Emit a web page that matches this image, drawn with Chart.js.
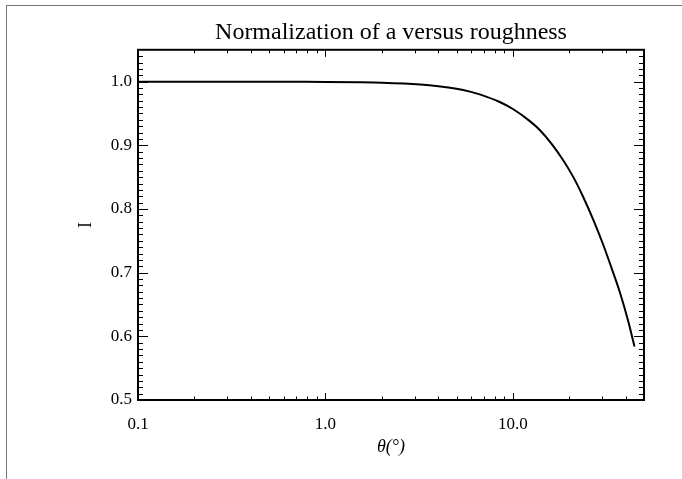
<!DOCTYPE html>
<html>
<head>
<meta charset="utf-8">
<script src="https://cdn.jsdelivr.net/npm/chart.js@4/dist/chart.umd.min.js"></script>
<style>
  body { margin: 0; background: #fff; }
  #wrap { position: relative; width: 682px; height: 479px; overflow: hidden; }
  #frame { position: absolute; left: 6px; top: 5px; width: 700px; height: 500px; border-left: 1px solid #777; border-top: 1px solid #777; }
  canvas { position: absolute; left: 0; top: 0; }
</style>
</head>
<body>
<div id="wrap">
  <div id="frame"></div>
  <canvas id="normChart" width="682" height="479"></canvas>
</div>
<script>
// 曲线数据：θ(度) 与 归一化值 I
const thetaDeg = [0.1, 0.2, 0.3, 0.5, 0.7, 1, 1.5, 2, 3.2, 4, 5, 5.9, 6.65, 8.5, 10, 12.3, 13.9, 16, 18.5, 21, 23.6, 27, 30.2, 33.5, 37.1, 41, 44.5]
const normI = [1.0, 1.0, 1.0, 1.0, 0.9998, 0.9996, 0.999, 0.9982, 0.9954, 0.9928, 0.9888, 0.9843, 0.980, 0.968, 0.957, 0.938, 0.924, 0.903, 0.877, 0.850, 0.820, 0.781, 0.745, 0.708, 0.670, 0.626, 0.584]

// 刻度
const xTickValues = [0.1, 1, 10]
const xTickLabels = ['0.1', '1.0', '10.0']
const yTickValues = [0.5, 0.6, 0.7, 0.8, 0.9, 1.0]
const yTickLabels = ['0.5', '0.6', '0.7', '0.8', '0.9', '1.0']

// 次刻度位置
const xMinorTicks = []
;[0.1, 1, 10].forEach(d => {
  for (let k = 2; k <= 9; k++) if (d * k < 50) xMinorTicks.push(d * k)
})
const yMinorTicks = []
for (let i = 51; i < 105; i++) if (i % 10 !== 0) yMinorTicks.push(i / 100)

const serif = 'Liberation Serif'
Chart.defaults.color = '#000'

// IDL 风格：四边框 + 向内的主/次刻度
const idlAxes = {
  id: 'idlAxes',
  afterDraw(chart) {
    const { ctx, chartArea: a, scales: { x, y } } = chart
    ctx.save()
    ctx.strokeStyle = '#000'
    ctx.lineWidth = 1
    ctx.beginPath()
    const xt = (v, len) => {
      const px = Math.round(x.getPixelForValue(v)) + 0.5
      ctx.moveTo(px, a.bottom); ctx.lineTo(px, a.bottom - len)
      ctx.moveTo(px, a.top); ctx.lineTo(px, a.top + len)
    }
    const yt = (v, len) => {
      const py = Math.round(y.getPixelForValue(v)) + 0.5
      ctx.moveTo(a.left, py); ctx.lineTo(a.left + len, py)
      ctx.moveTo(a.right, py); ctx.lineTo(a.right - len, py)
    }
    xTickValues.forEach(v => xt(v, 7))
    xMinorTicks.forEach(v => xt(v, 3.5))
    yTickValues.forEach(v => yt(v, 10))
    yMinorTicks.forEach(v => yt(v, 5))
    ctx.stroke()
    ctx.lineWidth = 2
    ctx.strokeRect(a.left, a.top, a.right - a.left, a.bottom - a.top)
    ctx.restore()
  }
}

new Chart(document.getElementById('normChart'), {
  type: 'line',
  data: {
    datasets: [{
      data: thetaDeg.map((t, i) => ({ x: t, y: normI[i] })),
      borderColor: '#000',
      borderWidth: 2,
      pointRadius: 0,
      cubicInterpolationMode: 'monotone',
      fill: false
    }]
  },
  options: {
    responsive: false,
    devicePixelRatio: 1,
    animation: false,
    layout: { padding: { left: 0, right: 38, top: 0, bottom: 0 } },
    plugins: {
      legend: { display: false },
      tooltip: { enabled: false },
      title: {
        display: true,
        fullSize: false,
        text: 'Normalization of a versus roughness',
        font: { family: serif, size: 24, weight: 'normal' },
        color: '#000',
        padding: { top: 18, bottom: 3 }
      }
    },
    scales: {
      x: {
        type: 'logarithmic',
        min: 0.1,
        max: 50,
        grid: { display: false, drawTicks: false },
        border: { display: false },
        afterBuildTicks: s => { s.ticks = xTickValues.map(v => ({ value: v })) },
        afterFit: s => { s.height = 79 },
        ticks: {
          autoSkip: false,
          maxRotation: 0,
          padding: 14,
          font: { family: serif, size: 17 },
          callback: (v) => xTickLabels[xTickValues.indexOf(v)] ?? ''
        },
        title: {
          display: true,
          text: 'θ(°)',
          font: { family: serif, size: 18, style: 'italic' },
          padding: { top: 0, bottom: 21 }
        }
      },
      y: {
        min: 0.5,
        max: 1.05,
        grid: { display: false, drawTicks: false },
        border: { display: false },
        afterBuildTicks: s => { s.ticks = yTickValues.map(v => ({ value: v })) },
        afterFit: s => { s.width = 138 },
        ticks: {
          padding: 6,
          font: { family: serif, size: 17 },
          callback: (v) => yTickLabels[yTickValues.indexOf(v)] ?? ''
        },
        title: {
          display: true,
          text: 'I',
          font: { family: serif, size: 18 },
          padding: { top: 75, bottom: 0 }
        }
      }
    }
  },
  plugins: [idlAxes]
})
</script>
</body>
</html>
